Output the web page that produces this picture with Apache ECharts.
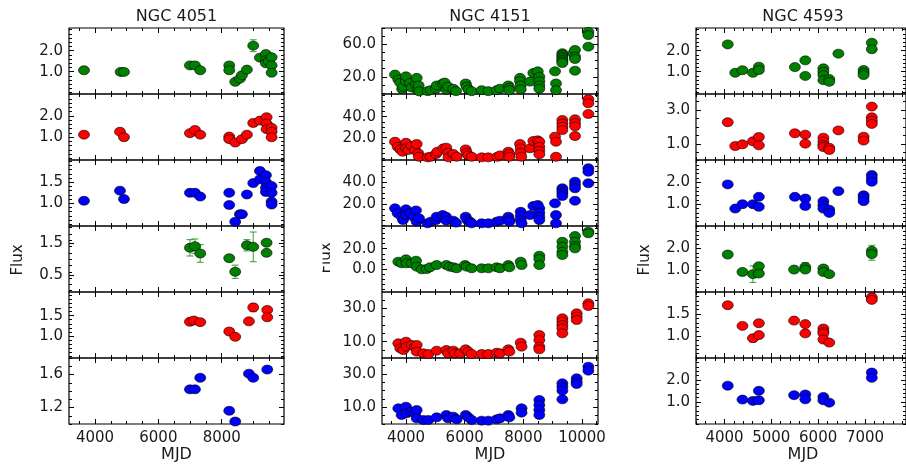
<!DOCTYPE html>
<html>
<head>
<meta charset="utf-8">
<script src="https://cdn.jsdelivr.net/npm/echarts@6/dist/echarts.min.js"></script>
<style>
  html, body { margin: 0; padding: 0; background: #fff; }
  #chart { width: 906px; height: 465px; }
</style>
</head>
<body>
<div id="chart"></div>
<script>
// Light curves, one array per band: [MJD, flux, flux error (optional)]
const ngc4051_1 = [[3653,1.07],[4810,0.99],[4915,0.99],[6997,1.30],[7155,1.30],[7322,1.07],[8237,1.30],[8237,1.07],[8426,0.52],[8574,0.67],[8637,0.83],[8795,1.10],[8994,2.24,0.28],[9205,1.67],[9394,1.84],[9394,1.55],[9394,1.40],[9480,1.50],[9574,1.69],[9574,1.30],[9574,0.95,0.08]];
const ngc4051_2 = [[3653,1.12],[4789,1.26],[4915,1.00],[6997,1.19],[7155,1.34],[7322,1.12],[8237,1.03],[8237,0.91],[8426,0.75],[8637,0.91],[8795,1.12],[8994,1.67],[9205,1.78],[9415,1.94],[9415,1.64],[9415,1.38],[9574,1.44],[9574,1.26],[9574,1.00]];
const ngc4051_3 = [[3653,1.06],[4789,1.30,0.06],[4915,1.10],[6997,1.25],[7155,1.25],[7322,1.16],[8237,1.25],[8237,0.96],[8426,0.56],[8574,0.74],[8637,0.74],[8795,1.21],[8994,1.48,0.04],[9205,1.77],[9205,1.57],[9394,1.67,0.05],[9394,1.51],[9394,1.37],[9394,1.27],[9574,1.41],[9574,1.25],[9574,1.04],[9574,0.97]];
const ngc4051_4 = [[6997,1.36,0.26],[7155,1.41,0.23],[7322,1.18,0.28],[8237,1.03,0.04],[8426,0.60,0.21],[8795,1.44,0.18],[8994,1.39,0.47],[9415,1.52],[9415,1.20]];
const ngc4051_5 = [[6997,1.35,0.05],[7120,1.38,0.04],[7322,1.34,0.05],[8237,1.11,0.03],[8426,0.98,0.06],[8858,1.36,0.04],[8994,1.70,0.10],[9436,1.64,0.07],[9436,1.46,0.08]];
const ngc4051_6 = [[6997,1.42],[7155,1.42],[7322,1.56],[8237,1.16],[8426,1.03],[8858,1.61],[8994,1.56,0.03],[9436,1.66,0.02]];

const ngc4151_1 = [[3625,22.8],[3738,16.7],[3806,12.7],[3870,5.0],[3908,7.9],[4000,14.7],[4000,20.7],[4136,12.7],[4193,7.0],[4341,11.0],[4364,18.8],[4400,3.5],[4432,9.5],[4450,2.3],[4739,2.5],[4842,3.7],[5023,5.5],[5046,9.5],[5251,11.9],[5319,13.0],[5375,4.6],[5432,8.0],[5613,5.5],[5704,2.5],[6035,11.9],[6070,8.0],[6125,4.6],[6239,2.5],[6580,3.7],[6807,2.5],[7091,3.7],[7205,5.5],[7488,9.5],[7522,6.6],[7522,3.7],[7887,18.8],[7887,14.7],[7910,9.5],[7910,4.6],[8228,14.2],[8341,24.8],[8490,26.8],[8545,20.2],[8545,14.7],[8545,9.5],[8545,5.5],[9080,26.8],[9113,11.9],[9113,3.7],[9330,49.1],[9330,47.0],[9330,45.0],[9330,43.0],[9330,41.0],[9330,39.0],[9330,37.0],[9704,49.0],[9761,53.0],[9761,45.0],[9761,42.0],[9761,27.6],[10216,75.3],[10216,71.3],[10216,57.1]];
const ngc4151_2 = [[3625,16.2],[3716,11.4],[3806,8.9],[3885,6.7],[4000,15.2],[4000,9.9],[4080,8.3],[4193,12.1],[4307,8.3],[4364,14.0],[4420,5.1],[4440,1.9],[4739,1.3],[4842,1.9],[5023,4.5],[5069,6.7],[5273,9.9],[5375,10.5],[5432,5.7],[5450,1.3],[5613,4.5],[5727,1.9],[6035,8.9],[6070,5.7],[6125,3.2],[6239,1.9],[6580,1.3],[6807,1.3],[7114,1.9],[7205,3.2],[7488,6.7],[7522,4.5],[7522,1.9],[7887,14.0],[7910,9.9],[7910,5.7],[7930,1.9],[8228,9.9],[8341,16.9],[8490,17.5],[8545,16.2],[8545,11.4],[8545,7.6],[8545,4.2],[9080,21.0],[9113,16.2],[9113,1.9],[9330,36.9],[9330,33.7],[9330,30.5],[9330,27.3],[9761,37.5],[9761,34.0],[9761,30.8],[9761,21.6],[10216,56.6],[10216,52.8],[10216,42.6]];
const ngc4151_3 = [[3625,16.0],[3716,11.4],[3850,8.3],[3900,5.2],[4000,15.1],[4000,9.8],[4136,11.4],[4250,8.3],[4341,14.1],[4364,3.7],[4443,6.8],[4739,2.2],[4842,3.7],[5023,5.2],[5046,8.3],[5251,9.8],[5364,8.3],[5375,4.6],[5613,4.6],[5704,2.8],[6035,8.3],[6090,5.2],[6182,3.7],[6239,2.2],[6580,2.2],[6807,2.2],[7091,3.7],[7205,4.6],[7488,8.3],[7522,5.2],[7522,3.7],[7910,12.9],[7910,8.9],[7910,5.2],[7940,2.2],[8228,9.8],[8341,18.2],[8490,19.1],[8545,16.0],[8545,12.0],[8545,8.3],[8545,5.2],[9080,20.6],[9113,9.8],[9113,2.2],[9330,34.5],[9330,32.3],[9330,29.9],[9330,27.4],[9761,40.6],[9761,37.5],[9761,34.5],[9761,23.0],[10216,53.0],[10216,49.8],[10216,39.1]];
const ngc4151_4 = [[3738,7.2],[3850,5.6],[4000,9.5],[4020,5.6],[4193,5.6],[4341,8.2],[4364,2.3],[4534,-0.3],[4705,0.0],[4820,1.7],[5046,3.9],[5375,3.9],[5489,2.3],[5613,1.7],[5727,0.7],[6012,3.9],[6070,2.3],[6239,0.7],[6580,0.7],[6807,0.7],[7091,1.7],[7205,0.7],[7488,3.9],[7522,1.7],[7910,7.2],[7940,3.9],[8545,13.1],[8545,9.8],[8545,3.9],[9330,26.8],[9330,21.9],[9330,17.0],[9330,13.8],[9761,32.4],[9761,26.8],[9761,22.6],[9761,20.3],[10216,36.7],[10216,35.1]];
const ngc4151_5 = [[3738,9.0],[3806,6.0],[3908,5.0],[4000,10.0],[4020,7.0],[4193,8.0],[4307,7.0],[4364,8.0],[4364,4.0],[4591,3.0],[4762,2.6],[5046,4.6],[5375,5.0],[5432,3.0],[5613,4.6],[5670,3.0],[5840,3.0],[6035,5.4],[6125,4.0],[6239,2.6],[6580,2.6],[6807,2.6],[7091,3.4],[7205,3.0],[7488,5.4],[7522,4.0],[7910,9.4],[7940,7.0],[8545,14.0],[8545,11.0],[8545,7.0],[8545,5.4],[9330,24.0],[9330,22.0],[9330,20.0],[9330,18.0],[9330,15.0],[9818,27.0],[9818,25.0],[9818,23.0],[10216,33.0],[10216,31.4]];
const ngc4151_6 = [[3738,9.4],[3850,5.4],[4000,10.4],[4020,6.4],[4193,7.4],[4307,6.4],[4364,8.4],[4364,3.4],[4591,2.4],[4762,2.4],[5046,4.0],[5375,5.4],[5432,3.4],[5613,4.4],[5727,2.8],[6035,5.4],[6125,4.0],[6239,2.4],[6580,2.0],[6807,2.0],[7091,2.8],[7205,3.4],[7488,5.4],[7522,4.0],[7940,9.4],[7940,6.8],[8545,14.4],[8545,11.4],[8545,8.4],[8545,5.4],[9330,24.4],[9330,22.4],[9330,20.0],[9330,14.8],[9818,27.4],[9818,25.4],[9818,24.0],[10216,34.4],[10216,32.0]];

const ngc4593_1 = [[4070,2.30],[4230,0.95],[4384,1.07],[4608,0.95],[4734,1.24],[4734,1.08],[5503,1.22],[5725,1.54],[5725,0.80],[6111,1.16],[6111,1.00],[6111,0.84],[6111,0.60],[6237,0.65],[6237,0.52],[6432,1.86],[6970,1.08],[6970,0.95],[6970,0.84],[7145,2.38],[7145,2.07]];
const ngc4593_2 = [[4070,2.28],[4230,0.88],[4384,0.98],[4608,1.16],[4734,1.41],[4734,0.92],[5503,1.63],[5725,1.55],[5725,1.02],[6111,1.37],[6111,1.14],[6111,0.94],[6111,0.82],[6237,0.78],[6237,0.65],[6432,1.80],[6970,1.43],[6970,1.20],[7145,3.20,0.12],[7145,2.57],[7145,2.37],[7145,2.18]];
const ngc4593_3 = [[4070,1.91],[4230,0.80],[4384,1.00],[4608,1.00],[4734,1.34],[4734,0.88],[5503,1.34],[5725,1.26],[5725,0.92],[6111,1.14],[6111,0.95],[6111,0.80],[6237,0.75],[6237,0.60],[6432,1.60],[6970,1.41],[6970,1.29],[6970,1.14],[7145,2.34],[7145,2.18],[7145,2.03]];
const ngc4593_4 = [[4070,1.72],[4384,0.92],[4608,0.82,0.38],[4734,1.18],[4734,0.85],[5486,1.03],[5725,1.15,0.20],[5725,1.03],[6111,1.08],[6111,0.92],[6237,0.82],[7145,1.89,0.25],[7145,1.74,0.28]];
const ngc4593_5 = [[4070,1.70,0.04],[4384,1.23,0.06],[4608,0.95,0.08],[4734,1.29],[4734,1.02],[5486,1.35],[5725,1.27],[5725,1.06],[6111,1.17],[6111,1.10],[6111,1.06],[6111,0.92],[6237,0.85],[7145,1.88,0.05],[7145,1.82,0.05]];
const ngc4593_6 = [[4070,1.74],[4384,1.11],[4608,1.05],[4734,1.51],[4734,1.08],[5486,1.31],[5725,1.34],[5725,1.12],[6111,1.23],[6111,1.08],[6237,0.97],[7145,2.34],[7145,2.10]];

const objectNames = ['NGC 4051', 'NGC 4151', 'NGC 4593'];
const panels = [
  [ngc4051_1, ngc4051_2, ngc4051_3, ngc4051_4, ngc4051_5, ngc4051_6],
  [ngc4151_1, ngc4151_2, ngc4151_3, ngc4151_4, ngc4151_5, ngc4151_6],
  [ngc4593_1, ngc4593_2, ngc4593_3, ngc4593_4, ngc4593_5, ngc4593_6]
];

// Axis ticks and limits
const xTicks = [[4000, 6000, 8000], [4000, 6000, 8000, 10000], [4000, 5000, 6000, 7000]];
const xMinorStep = [500, 500, 200];
const xLimits = [[3180, 9965], [3182, 10545], [3392, 7875]];
const yTicks = [
  [[1, 2], [1, 2], [1, 1.5], [0.5, 1.5], [1, 1.5], [1.2, 1.6]],
  [[20, 60], [20, 40], [20, 40], [0, 20], [10, 30], [10, 30]],
  [[1, 2], [1, 3], [1, 2], [1, 2], [1, 1.5], [1, 2]]
];
const yMinorStep = [
  [0.2, 0.2, 0.1, 0.2, 0.1, 0.1],
  [10, 5, 5, 5, 5, 5],
  [0.2, 0.5, 0.2, 0.2, 0.1, 0.2]
];
const yLimits = [
  [[-0.06, 3.08], [-0.07, 3.03], [0.46, 2.03], [-0.04, 2.05], [0.46, 2.08], [1.0, 1.8]],
  [[-1, 80], [-1.2, 61.6], [-0.3, 60.6], [-22.6, 42.3], [0.2, 39.8], [0, 39.6]],
  [[-0.06, 3.08], [0.06, 3.94], [0, 3.03], [0, 3.03], [0.5, 2.0], [0, 3.0]]
];

// Layout
const colLeft = [69, 382, 696];
const colWidth = [215, 216, 214];
const rowTop = 28, rowHeight = 66;
const bandColors = ['#008000', '#ff0000', '#0000ff', '#008000', '#ff0000', '#0000ff'];
const FONT = 'DejaVu Sans';
const INK = '#1a1a1a';

function minorValues(lim, step, majors) {
  const out = [];
  for (let k = Math.ceil(lim[0] / step - 1e-9); k * step <= lim[1] + 1e-9; k++) {
    const v = +(k * step).toFixed(6);
    if (!majors.some(m => Math.abs(m - v) < 1e-9)) out.push(v);
  }
  return out;
}

// Tick-only axis pinned to one side of the panel frame
function tickAxis(gridIndex, position, lim, values, len, labels) {
  return {
    type: 'value', gridIndex, position, min: lim[0], max: lim[1],
    axisLine: { show: false, onZero: false },
    splitLine: { show: false },
    axisTick: { show: true, inside: true, length: len, customValues: values,
                lineStyle: { color: '#000', width: 1 } },
    axisLabel: labels ? Object.assign({ customValues: values }, labels) : { show: false }
  };
}

function errorBars(data, axisIndex, color) {
  return {
    type: 'custom', xAxisIndex: axisIndex, yAxisIndex: axisIndex, clip: true, z: 1,
    data: data.filter(d => d.length > 2 && d[2] > 0),
    renderItem(params, api) {
      const x = api.value(0), y = api.value(1), e = api.value(2);
      const hi = api.coord([x, y + e]), lo = api.coord([x, y - e]);
      const cap = 3.5;
      const st = { stroke: color, lineWidth: 1.2, opacity: 0.65 };
      return { type: 'group', children: [
        { type: 'line', shape: { x1: hi[0], y1: hi[1], x2: lo[0], y2: lo[1] }, style: st },
        { type: 'line', shape: { x1: hi[0] - cap, y1: hi[1], x2: hi[0] + cap, y2: hi[1] }, style: st },
        { type: 'line', shape: { x1: lo[0] - cap, y1: lo[1], x2: lo[0] + cap, y2: lo[1] }, style: st }
      ]};
    }
  };
}

const grids = [], xAxes = [], yAxes = [], series = [];
for (let c = 0; c < 3; c++) {
  for (let r = 0; r < 6; r++) {
    const g = grids.length;
    grids.push({
      left: colLeft[c], top: rowTop + r * rowHeight, width: colWidth[c], height: rowHeight,
      show: true, borderColor: '#000', borderWidth: 1.2, backgroundColor: 'transparent'
    });
    const xl = xLimits[c], yl = yLimits[c][r];
    const xMin = minorValues(xl, xMinorStep[c], xTicks[c]);
    const yMaj = yTicks[c][r];
    const yMin = minorValues(yl, yMinorStep[c][r], yMaj);
    const xLabels = r === 5
      ? { show: true, margin: 7, fontSize: 15, fontFamily: FONT, color: INK, formatter: v => String(v) }
      : null;
    xAxes.push(tickAxis(g, 'bottom', xl, xTicks[c], 5, xLabels));
    xAxes.push(tickAxis(g, 'bottom', xl, xMin, 3, null));
    xAxes.push(tickAxis(g, 'top', xl, xTicks[c], 5, null));
    xAxes.push(tickAxis(g, 'top', xl, xMin, 3, null));
    const yLabels = { show: true, margin: 6, fontSize: 15, fontFamily: FONT, color: INK,
                      formatter: v => Number(v).toFixed(1) };
    yAxes.push(tickAxis(g, 'left', yl, yMaj, 5, yLabels));
    yAxes.push(tickAxis(g, 'left', yl, yMin, 3, null));
    yAxes.push(tickAxis(g, 'right', yl, yMaj, 5, null));
    yAxes.push(tickAxis(g, 'right', yl, yMin, 3, null));

    const ai = g * 4;
    const color = bandColors[r];
    series.push(errorBars(panels[c][r], ai, color));
    series.push({
      type: 'scatter', xAxisIndex: ai, yAxisIndex: ai, clip: true, z: 2,
      symbol: 'circle', symbolSize: [11, 9],
      itemStyle: { color, borderColor: '#000', borderWidth: 0.6, opacity: 1 },
      data: panels[c][r].map(d => [d[0], d[1]])
    });
  }
}

const graphics = [];
objectNames.forEach((name, c) => {
  const cx = colLeft[c] + colWidth[c] / 2;
  graphics.push({ type: 'text', x: cx, y: 17, z: 10,
    style: { text: name, font: '16px "' + FONT + '"', fill: INK, textAlign: 'center', textVerticalAlign: 'middle' } });
  graphics.push({ type: 'text', x: cx, y: 455, z: 10,
    style: { text: 'MJD', font: '16px "' + FONT + '"', fill: INK, textAlign: 'center', textVerticalAlign: 'middle' } });
});
[[18, 260], [326, 258], [645, 260]].forEach(p => {
  graphics.push({ type: 'text', x: p[0], y: p[1], rotation: Math.PI / 2, z: 10,
    style: { text: 'Flux', font: '15px "' + FONT + '"', fill: INK, textAlign: 'center', textVerticalAlign: 'middle' } });
});
// the middle column's axis title sits partly under the neighbouring panel's edge
graphics.push({ type: 'rect', z: 20, shape: { x: 300, y: 225, width: 22.5, height: 70 }, style: { fill: '#fff' } });

const chart = echarts.init(document.getElementById('chart'), null, { renderer: 'canvas' });
chart.setOption({
  animation: false,
  backgroundColor: '#fff',
  grid: grids,
  xAxis: xAxes,
  yAxis: yAxes,
  series,
  graphic: graphics
});
</script>
</body>
</html>
